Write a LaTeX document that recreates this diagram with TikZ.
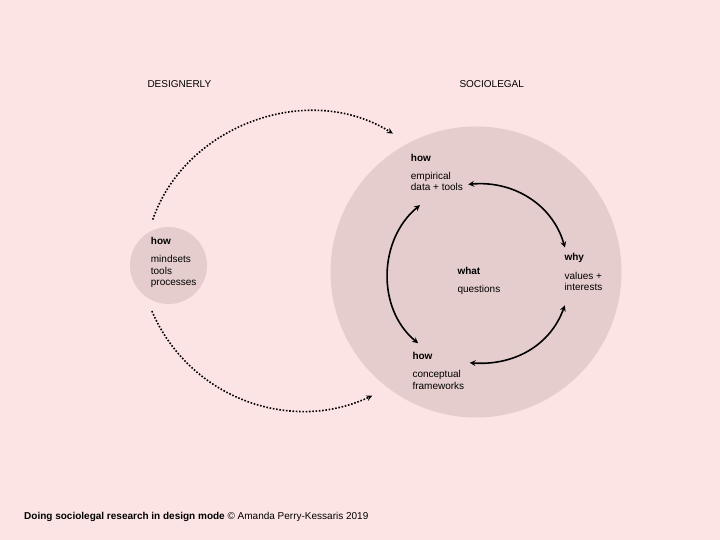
\documentclass[tikz,border=0pt]{standalone}
\usepackage{fontspec}
\setmainfont{Liberation Sans}
\usepackage{tikz}
\definecolor{backpink}{HTML}{FDE4E4}
\definecolor{circlepink}{HTML}{E5CDCD}
\tikzstyle{blob} = [circle, fill=circlepink, inner sep=0pt]
\tikzstyle{label} = [anchor=base west, inner sep=0pt]
\tikzstyle{head} = [font=\bfseries, anchor=base west, inner sep=0pt]
\tikzstyle{body} = [font=\fontsize{10}{11.5}\selectfont, align=left, anchor=base west, inner sep=0pt]
\tikzstyle{ringarrow} = [line width=1.6pt, stealth-stealth]
\tikzstyle{dotarrow} = [line width=1.6pt, dash pattern=on 1.6pt off 1.7pt, -stealth]

\begin{document}
\begin{tikzpicture}[x=1pt,y=1pt]
			\fill[backpink] (0,0) rectangle (720,540);
			\useasboundingbox (0,0) rectangle (720,540);
			\node[blob, minimum size=77pt, outer sep=10pt] (des) at (168.5,274.5) {};
			\node[blob, minimum size=291pt, outer sep=16pt] (soc) at (476,268) {};
			\node[label] (ldes) at (147.3,452) {DESIGNERLY};
			\node[label] (lsoc) at (459.3,452) {SOCIOLEGAL};
			% body nodes sit on the baseline of their last line
			\node[head] (hdes) at (150.7,295) {how};
			\node[body] (tdes) at ([yshift=-40.7pt]hdes.base west) {mindsets\\tools\\processes};
			\node[head] (hemp) at (410.7,378.3) {how};
			\node[body] (temp) at ([yshift=-29.2pt]hemp.base west) {empirical\\data + tools};
			\node[head] (hwhy) at (564.3,279) {why};
			\node[body] (twhy) at ([yshift=-29.8pt]hwhy.base west) {values +\\interests};
			\node[head] (hwhat) at (457.3,265.7) {what};
			\node[body] (twhat) at ([yshift=-18pt]hwhat.base west) {questions};
			\node[head] (hcon) at (412.3,180) {how};
			\node[body] (tcon) at ([yshift=-29.2pt]hcon.base west) {conceptual\\frameworks};
			\draw[dotarrow] (des.109) to[out=71, in=148] (soc.121);
			\draw[dotarrow] (des.250) to[out=293, in=205] (soc.230);
			\coordinate (ring) at (476,267);
			\coordinate (a1) at ([shift={(95:89)}]ring);
			\coordinate (a2) at ([shift={(16:92.5)}]ring);
			\coordinate (a3) at ([shift={(-20:94.5)}]ring);
			\coordinate (a4) at ([shift={(266:90)}]ring);
			\coordinate (a5) at ([shift={(129.5:88)}]ring);
			\coordinate (a6) at ([shift={(230.5:91)}]ring);
			\draw[ringarrow] (a1) to[out=5, in=106] (a2);
			\draw[ringarrow] (a3) to[out=250, in=356] (a4);
			\draw[ringarrow] (a5) to[out=219.5, in=140.5] (a6);
			\node[label] (credit) at (24,20.5) {\textbf{Doing sociolegal research in design mode} © Amanda Perry-Kessaris 2019};
		\end{tikzpicture}
\end{document}
